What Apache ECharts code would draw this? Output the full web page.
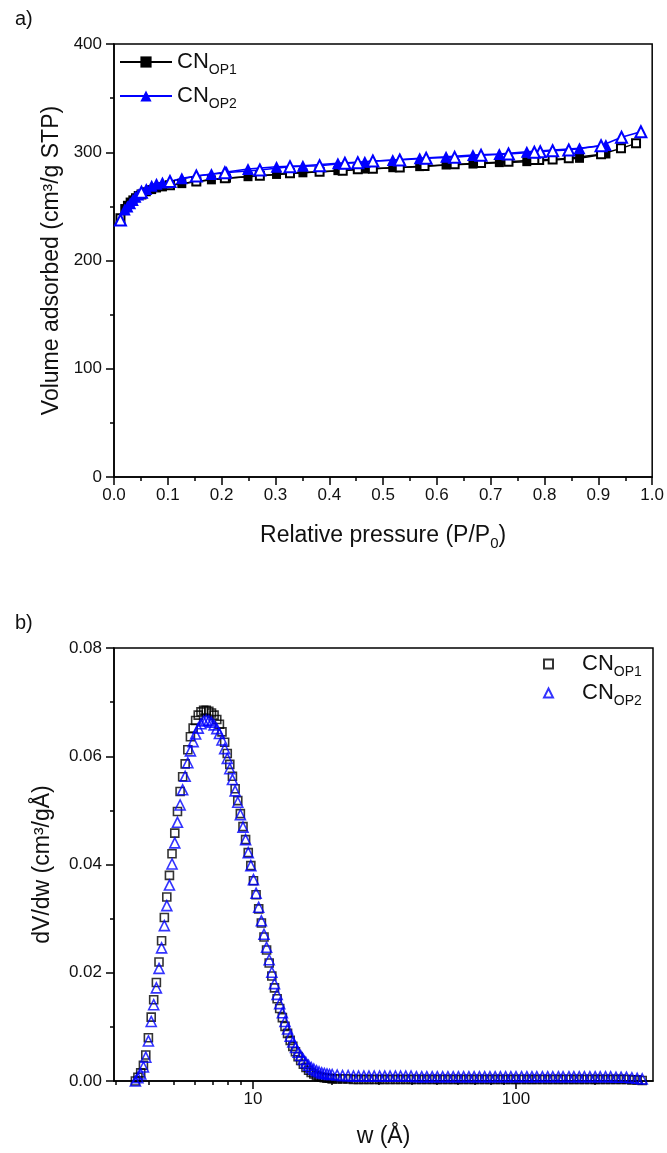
<!DOCTYPE html>
<html>
<head>
<meta charset="utf-8">
<script src="https://cdn.jsdelivr.net/npm/echarts@6/dist/echarts.min.js"></script>
<style>
  html, body { margin: 0; padding: 0; background: #fff; }
  #main { width: 667px; height: 1153px; }
</style>
</head>
<body>
<div id="main"></div>
<script>
// ---- a) isotherms ----
const op1AdsP = [0.02, 0.025, 0.03, 0.035, 0.04, 0.045, 0.06, 0.07, 0.079, 0.09, 0.104, 0.126, 0.153, 0.181, 0.209, 0.249, 0.302, 0.351, 0.416, 0.466, 0.518, 0.568, 0.617, 0.667, 0.716, 0.767, 0.865, 0.914]
const op1AdsV = [248, 251, 254, 256, 258, 260, 263.5, 265.5, 267, 268, 269.5, 271, 273, 274.5, 276, 277.4, 279.5, 281, 283, 284.5, 285.7, 286.7, 288.2, 289.1, 290.4, 291.3, 294.4, 298.4]
const op1DesP = [0.97, 0.942, 0.905, 0.845, 0.815, 0.79, 0.781, 0.733, 0.682, 0.633, 0.577, 0.531, 0.481, 0.453, 0.425, 0.382, 0.327, 0.271, 0.206, 0.153, 0.104, 0.051, 0.012]
const op1DesV = [308.2, 303.6, 298.1, 294.4, 293.4, 292.8, 292.8, 291.3, 290.1, 288.8, 287.3, 286, 284.8, 284.2, 283, 282, 280.5, 278.3, 276, 273, 269.5, 261, 239]

const op2AdsP = [0.02, 0.025, 0.03, 0.035, 0.04, 0.045, 0.06, 0.07, 0.079, 0.09, 0.104, 0.126, 0.153, 0.181, 0.209, 0.249, 0.302, 0.351, 0.416, 0.466, 0.518, 0.568, 0.617, 0.667, 0.716, 0.767, 0.865, 0.914]
const op2AdsV = [247, 250, 253, 256, 259, 261, 266, 269, 271, 272, 273, 276, 278, 280, 281.8, 284.5, 286.7, 287.6, 289.8, 291.3, 292.8, 294.4, 295.9, 297.5, 298.4, 300.5, 303.6, 306.7]
const op2DesP = [0.979, 0.943, 0.905, 0.845, 0.815, 0.792, 0.781, 0.733, 0.682, 0.633, 0.58, 0.531, 0.481, 0.453, 0.429, 0.382, 0.327, 0.271, 0.206, 0.153, 0.104, 0.051, 0.012]
const op2DesV = [319, 313.8, 306, 302.1, 301.4, 300.5, 300, 298.4, 297.2, 295.3, 294.4, 292.8, 291.9, 290.4, 289.8, 287.6, 286.7, 283.6, 281, 278, 273, 263, 237.4]

// ---- b) pore size distribution ----
const poreW = [3.57, 3.65, 3.74, 3.83, 3.91, 4.00, 4.10, 4.19, 4.29, 4.39, 4.49, 4.60, 4.70, 4.81, 4.92, 5.04, 5.16, 5.28, 5.40, 5.52,
  5.65, 5.78, 5.92, 6.05, 6.19, 6.34, 6.49, 6.64, 6.79, 6.95, 7.11, 7.28, 7.45, 7.62, 7.80, 7.98, 8.16, 8.35, 8.55, 8.75,
  8.95, 9.16, 9.37, 9.59, 9.81, 10.04, 10.27, 10.51, 10.76, 11.01, 11.26, 11.52, 11.79, 12.07, 12.35, 12.63, 12.93, 13.23, 13.53, 13.85,
  14.17, 14.50, 14.84, 15.18, 15.54, 15.90, 16.27, 16.64, 17.03, 17.43, 17.83, 18.25, 18.67, 19.11, 19.55, 20.0,
  20.9, 21.9, 23.0, 24.1, 25.2, 26.4, 27.6, 28.9, 30.3, 31.7, 33.2, 34.8, 36.4, 38.1, 39.9, 41.8, 43.8, 45.8, 48.0, 50.2,
  52.6, 55.1, 57.7, 60.4, 63.2, 66.2, 69.3, 72.6, 76.0, 79.6, 83.3, 87.2, 91.3, 95.6, 100, 105, 110, 115, 120, 126,
  132, 138, 145, 151, 159, 166, 174, 182, 191, 200, 209, 219, 229, 240, 251, 263, 276, 289, 302]
const psdOp1 = [0.0000, 0.0007, 0.0015, 0.0029, 0.0048, 0.0080, 0.0118, 0.0150, 0.0182, 0.0220, 0.0259, 0.0302, 0.0340, 0.0380, 0.0420, 0.0458, 0.0498, 0.0535, 0.0562, 0.0586,
  0.0612, 0.0636, 0.0652, 0.0666, 0.0676, 0.0682, 0.0685, 0.0685, 0.0683, 0.0680, 0.0676, 0.0668, 0.0659, 0.0645, 0.0626, 0.0605, 0.0585, 0.0563, 0.0540, 0.0518,
  0.0494, 0.0470, 0.0446, 0.0422, 0.0398, 0.0370, 0.0344, 0.0318, 0.0292, 0.0266, 0.0242, 0.0218, 0.0194, 0.0172, 0.0152, 0.0134, 0.0117, 0.0101, 0.0088, 0.0075,
  0.0064, 0.0054, 0.0045, 0.0038, 0.0031, 0.0025, 0.0020, 0.0016, 0.0013, 0.0010, 0.0008, 0.0007, 0.0006, 0.0005, 0.0005, 0.0004,
  0.0004, 0.0004, 0.0004, 0.0003, 0.0003, 0.0003, 0.0003, 0.0003, 0.0003, 0.0003, 0.0003, 0.0003, 0.0003, 0.0003, 0.0003, 0.0003, 0.0003, 0.0003, 0.0003, 0.0003,
  0.0003, 0.0003, 0.0003, 0.0003, 0.0003, 0.0003, 0.0003, 0.0003, 0.0003, 0.0003, 0.0003, 0.0003, 0.0003, 0.0003, 0.0003, 0.0003, 0.0003, 0.0003, 0.0003, 0.0003,
  0.0003, 0.0003, 0.0003, 0.0003, 0.0003, 0.0003, 0.0003, 0.0003, 0.0003, 0.0003, 0.0003, 0.0003, 0.0003, 0.0003, 0.0003, 0.0003, 0.0002, 0.0002, 0.0001]
const psdOp2 = [0.0000, 0.0006, 0.0013, 0.0026, 0.0044, 0.0074, 0.0110, 0.0141, 0.0172, 0.0208, 0.0246, 0.0287, 0.0324, 0.0362, 0.0401, 0.0440, 0.0478, 0.0510, 0.0538, 0.0563,
  0.0588, 0.0610, 0.0627, 0.0641, 0.0652, 0.0660, 0.0665, 0.0667, 0.0666, 0.0663, 0.0658, 0.0651, 0.0642, 0.0630, 0.0614, 0.0596, 0.0577, 0.0557, 0.0536, 0.0515,
  0.0492, 0.0469, 0.0446, 0.0422, 0.0398, 0.0372, 0.0347, 0.0321, 0.0296, 0.0271, 0.0247, 0.0224, 0.0201, 0.0180, 0.0160, 0.0143, 0.0126, 0.0110, 0.0096, 0.0083,
  0.0072, 0.0062, 0.0053, 0.0047, 0.0040, 0.0034, 0.0029, 0.0025, 0.0022, 0.0019, 0.0017, 0.0015, 0.0014, 0.0013, 0.0012, 0.0012,
  0.0011, 0.0010, 0.0010, 0.0009, 0.0009, 0.0009, 0.0009, 0.0009, 0.0009, 0.0009, 0.0009, 0.0009, 0.0009, 0.0009, 0.0009, 0.0008, 0.0008, 0.0008, 0.0008, 0.0008,
  0.0008, 0.0008, 0.0008, 0.0008, 0.0008, 0.0008, 0.0008, 0.0008, 0.0008, 0.0008, 0.0008, 0.0008, 0.0008, 0.0008, 0.0008, 0.0008, 0.0008, 0.0008, 0.0008, 0.0008,
  0.0008, 0.0008, 0.0008, 0.0008, 0.0008, 0.0008, 0.0008, 0.0008, 0.0008, 0.0008, 0.0008, 0.0008, 0.0008, 0.0007, 0.0007, 0.0007, 0.0006, 0.0005, 0.0004]

// axis tick positions
const wMajorTicks = [10, 100]
const wMinorTicks = [3, 4, 5, 6, 7, 8, 9, 20, 30, 40, 50, 60, 70, 80, 90, 200, 300]

const zip = (xs, ys) => xs.map((x, i) => [x, ys[i]])

const FONT = '"Liberation Sans", Arial, sans-serif'
const BLACK = '#000'
const BLUE = '#0000ff'
const legendNames = { iso1: '{n|CN}{s|OP1}', iso2: '{n|CN}{s|OP2}', psd1: '{p|CN}{s|OP1}', psd2: '{p|CN}{s|OP2}' }

const richSub = {
  n: { fontSize: 22, lineHeight: 30, fontFamily: FONT, color: '#111' },
  p: { fontSize: 22, lineHeight: 30, fontFamily: FONT, color: '#111', padding: [0, 0, 0, 24] },
  s: { fontSize: 14, lineHeight: 14, verticalAlign: 'bottom', fontFamily: FONT, color: '#111' }
}

const axisLine = { show: true, lineStyle: { color: BLACK, width: 1.5 } }
const tickStyle = { lineStyle: { color: BLACK, width: 1.5 } }
const labelStyle = { fontSize: 17, fontFamily: FONT, color: '#111' }
const titleStyle = { fontSize: 23, fontFamily: FONT, color: '#111' }

var myChart = echarts.init(document.getElementById('main'), null, { renderer: 'canvas' })

const option = {
  animation: false,
  backgroundColor: '#fff',
  title: [
    { text: 'a)', left: 10, top: 4, textStyle: { fontSize: 20, fontWeight: 'normal', fontFamily: FONT, color: '#111' } },
    { text: 'b)', left: 10, top: 608, textStyle: { fontSize: 20, fontWeight: 'normal', fontFamily: FONT, color: '#111' } }
  ],
  grid: [
    { left: 114, top: 44, width: 539, height: 433, show: true, borderColor: BLACK, borderWidth: 1.5 },
    { left: 114, top: 648, width: 539, height: 433, show: true, borderColor: BLACK, borderWidth: 1.5 }
  ],
  legend: [
    {
      data: ['iso1', 'iso2'],
      orient: 'vertical',
      left: 119, top: 51, padding: 0,
      itemWidth: 52, itemHeight: 14, itemGap: 8,
      formatter: n => legendNames[n],
      textStyle: { rich: richSub }
    },
    {
      data: ['psd1', 'psd2'],
      orient: 'vertical',
      left: 543, top: 653, padding: 0,
      itemWidth: 9, itemHeight: 9, itemGap: 3,
      formatter: n => legendNames[n],
      textStyle: { rich: richSub }
    }
  ],
  xAxis: [
    {
      type: 'value', gridIndex: 0, min: 0, max: 1, interval: 0.1,
      name: 'Relative pressure (P/P{s|0})', nameLocation: 'middle', nameGap: 44,
      nameTextStyle: Object.assign({ lineHeight: 30, rich: { s: { fontSize: 15, lineHeight: 14, verticalAlign: 'bottom', fontFamily: FONT, color: '#111' } } }, titleStyle),
      axisLine: axisLine,
      axisTick: Object.assign({ length: 8 }, tickStyle),
      minorTick: { show: true, splitNumber: 2, length: 4, lineStyle: { color: BLACK, width: 1.5 } },
      axisLabel: Object.assign({ margin: 10, formatter: v => v.toFixed(1) }, labelStyle),
      splitLine: { show: false }
    },
    {
      type: 'log', logBase: 10, gridIndex: 1, min: 2.96, max: 332,
      name: 'w (Å)', nameLocation: 'middle', nameGap: 44,
      nameTextStyle: titleStyle,
      axisLine: axisLine,
      axisTick: Object.assign({ length: 8, customValues: wMajorTicks }, tickStyle),
      axisLabel: Object.assign({ margin: 10, customValues: wMajorTicks }, labelStyle),
      splitLine: { show: false }
    },
    {
      type: 'log', logBase: 10, gridIndex: 1, min: 2.96, max: 332, position: 'bottom',
      axisLine: { show: false },
      axisTick: Object.assign({ length: 4, customValues: wMinorTicks }, tickStyle),
      axisLabel: { show: false },
      splitLine: { show: false }
    }
  ],
  yAxis: [
    {
      type: 'value', gridIndex: 0, min: 0, max: 400, interval: 100,
      name: 'Volume adsorbed (cm³/g STP)', nameLocation: 'middle', nameGap: 50,
      nameTextStyle: titleStyle,
      axisLine: axisLine,
      axisTick: Object.assign({ length: 8 }, tickStyle),
      minorTick: { show: true, splitNumber: 2, length: 4, lineStyle: { color: BLACK, width: 1.5 } },
      axisLabel: Object.assign({ margin: 12 }, labelStyle),
      splitLine: { show: false }
    },
    {
      type: 'value', gridIndex: 1, min: 0, max: 0.08, interval: 0.02,
      name: 'dV/dw (cm³/gÅ)', nameLocation: 'middle', nameGap: 60,
      nameTextStyle: titleStyle,
      axisLine: axisLine,
      axisTick: Object.assign({ length: 8 }, tickStyle),
      minorTick: { show: true, splitNumber: 2, length: 4, lineStyle: { color: BLACK, width: 1.5 } },
      axisLabel: Object.assign({ margin: 12, formatter: v => v.toFixed(2) }, labelStyle),
      splitLine: { show: false }
    }
  ],
  series: [
    {
      name: 'iso1', type: 'line', xAxisIndex: 0, yAxisIndex: 0,
      data: zip(op1AdsP, op1AdsV),
      symbol: 'rect', symbolSize: 9,
      lineStyle: { color: BLACK, width: 1.5 },
      itemStyle: { color: BLACK }
    },
    {
      name: 'iso1d', type: 'line', xAxisIndex: 0, yAxisIndex: 0,
      data: zip(op1DesP, op1DesV),
      symbol: 'emptyRect', symbolSize: 8,
      lineStyle: { color: BLACK, width: 1.5 },
      itemStyle: { color: BLACK, borderColor: BLACK, borderWidth: 1.5 }
    },
    {
      name: 'iso2', type: 'line', xAxisIndex: 0, yAxisIndex: 0,
      data: zip(op2AdsP, op2AdsV),
      symbol: 'triangle', symbolSize: 12,
      lineStyle: { color: BLUE, width: 1.5 },
      itemStyle: { color: BLUE }
    },
    {
      name: 'iso2d', type: 'line', xAxisIndex: 0, yAxisIndex: 0,
      data: zip(op2DesP, op2DesV),
      symbol: 'emptyTriangle', symbolSize: 11,
      lineStyle: { color: BLUE, width: 1.5 },
      itemStyle: { color: BLUE, borderColor: BLUE, borderWidth: 1.5 }
    },
    {
      name: 'psd1', type: 'scatter', xAxisIndex: 1, yAxisIndex: 1,
      data: zip(poreW, psdOp1),
      symbol: 'rect', symbolSize: 8,
      itemStyle: { color: 'rgba(255,255,255,0)', borderColor: BLACK, borderWidth: 1.6 }
    },
    {
      name: 'psd2', type: 'scatter', xAxisIndex: 1, yAxisIndex: 1,
      data: zip(poreW, psdOp2),
      symbol: 'triangle', symbolSize: 10,
      itemStyle: { color: 'rgba(255,255,255,0)', borderColor: BLUE, borderWidth: 1.6 }
    }
  ]
}

myChart.setOption(option)
</script>
</body>
</html>
